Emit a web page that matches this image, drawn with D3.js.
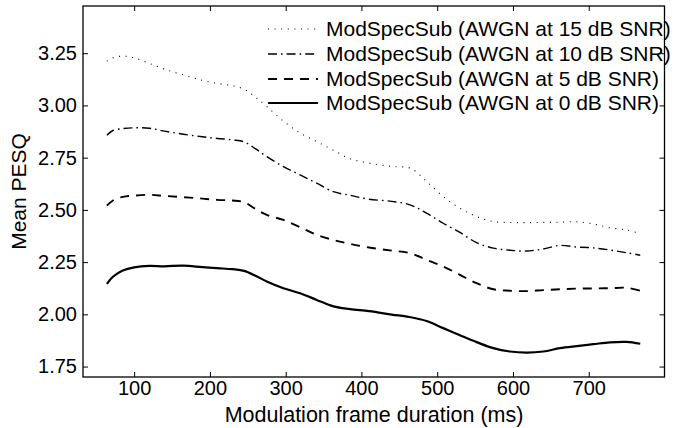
<!DOCTYPE html>
<html>
<head>
<meta charset="utf-8">
<script src="https://cdn.jsdelivr.net/npm/d3@7"></script>
<style>
  html, body { margin: 0; padding: 0; background: #fff; }
  svg { display: block; font-family: "Liberation Sans", Arial, Helvetica, sans-serif; }
</style>
</head>
<body>
<svg id="chart" width="680" height="428"></svg>
<script>
// Modulation frame durations (ms) at which mean PESQ was evaluated
const durations = [64, 72, 85, 100, 120, 140, 165, 190, 210, 230, 245, 260, 275, 297, 319, 341, 363, 385, 410, 440, 465, 486, 508, 530, 552, 574, 596, 618, 640, 662, 684, 706, 728, 750, 768];

// Mean PESQ per noise level
const snr15 = [3.212, 3.228, 3.236, 3.228, 3.201, 3.174, 3.146, 3.120, 3.105, 3.094, 3.078, 3.040, 2.995, 2.925, 2.868, 2.827, 2.786, 2.745, 2.724, 2.708, 2.699, 2.636, 2.564, 2.508, 2.468, 2.444, 2.440, 2.439, 2.440, 2.441, 2.443, 2.433, 2.414, 2.404, 2.386];
const snr10 = [2.857, 2.880, 2.889, 2.893, 2.891, 2.877, 2.862, 2.850, 2.842, 2.835, 2.826, 2.793, 2.755, 2.707, 2.667, 2.628, 2.587, 2.570, 2.551, 2.541, 2.523, 2.484, 2.436, 2.392, 2.343, 2.317, 2.307, 2.303, 2.313, 2.330, 2.322, 2.318, 2.308, 2.295, 2.283];
const snr5  = [2.520, 2.545, 2.562, 2.568, 2.572, 2.567, 2.561, 2.554, 2.548, 2.545, 2.537, 2.505, 2.476, 2.452, 2.417, 2.380, 2.356, 2.337, 2.320, 2.305, 2.292, 2.261, 2.229, 2.189, 2.149, 2.120, 2.113, 2.111, 2.116, 2.120, 2.123, 2.124, 2.125, 2.127, 2.113];
const snr0  = [2.146, 2.180, 2.210, 2.225, 2.232, 2.230, 2.233, 2.226, 2.221, 2.216, 2.208, 2.185, 2.157, 2.125, 2.101, 2.069, 2.038, 2.025, 2.015, 1.999, 1.986, 1.968, 1.934, 1.900, 1.867, 1.838, 1.822, 1.817, 1.822, 1.838, 1.848, 1.857, 1.866, 1.868, 1.859];

const seriesNames = [
  "ModSpecSub (AWGN at 15 dB SNR)",
  "ModSpecSub (AWGN at 10 dB SNR)",
  "ModSpecSub (AWGN at 5 dB SNR)",
  "ModSpecSub (AWGN at 0 dB SNR)"
];

const xTicks = [100, 200, 300, 400, 500, 600, 700];
const yTicks = [1.75, 2.00, 2.25, 2.50, 2.75, 3.00, 3.25];

const xLabel = "Modulation frame duration (ms)";
const yLabel = "Mean PESQ";

// Line styles for each series
const styles = [
  { width: 1.1, dash: "1,5.6" },
  { width: 1.4, dash: "9,4,1.6,4" },
  { width: 1.9, dash: "9,7" },
  { width: 2.2, dash: null }
];

const W = 680, H = 428;
const margin = { top: 6, right: 15.5, bottom: 51, left: 83 };
const iw = W - margin.left - margin.right;
const ih = H - margin.top - margin.bottom;

const svg = d3.select("#chart");
svg.append("rect").attr("width", W).attr("height", H).attr("fill", "#fff");

const g = svg.append("g").attr("transform", `translate(${margin.left},${margin.top})`);

const x = d3.scaleLinear().domain([32.5, 800]).range([0, iw]);
const y = d3.scaleLinear().domain([1.70, 3.476]).range([ih, 0]);

const tickFont = 20, legendFont = 21, titleFont = 21.5;

// Axes: ticks point inward on all four sides
const xAxisB = d3.axisBottom(x).tickValues(xTicks).tickSizeInner(-5).tickSizeOuter(0).tickPadding(4).tickFormat(d3.format("d"));
const xAxisT = d3.axisTop(x).tickValues(xTicks).tickSizeInner(-5).tickSizeOuter(0).tickFormat("");
const yAxisL = d3.axisLeft(y).tickValues(yTicks).tickSizeInner(-5).tickSizeOuter(0).tickPadding(6).tickFormat(d3.format(".2f"));
const yAxisR = d3.axisRight(y).tickValues(yTicks).tickSizeInner(-5).tickSizeOuter(0).tickFormat("");

function styleAxis(sel) {
  sel.select(".domain").remove();
  sel.selectAll(".tick line").attr("stroke", "#000").attr("stroke-width", 1);
  sel.selectAll(".tick text").attr("fill", "#000").attr("font-size", tickFont).attr("font-family", null);
}

g.append("g").attr("transform", `translate(0,${ih})`).call(xAxisB).call(styleAxis);
g.append("g").call(xAxisT).call(styleAxis);
g.append("g").call(yAxisL).call(styleAxis);
g.append("g").attr("transform", `translate(${iw},0)`).call(yAxisR).call(styleAxis);

// Data lines
const allSeries = [snr15, snr10, snr5, snr0];
const line = d3.line()
  .x(d => x(d[0]))
  .y(d => y(d[1]))
  .curve(d3.curveCatmullRom.alpha(0.5));

allSeries.forEach((vals, i) => {
  const pts = durations.map((d, k) => [d, vals[k]]);
  g.append("path")
    .datum(pts)
    .attr("fill", "none")
    .attr("stroke", "#000")
    .attr("stroke-width", styles[i].width)
    .attr("stroke-dasharray", styles[i].dash)
    .attr("stroke-linejoin", "round")
    .attr("d", line);
});

// Plot frame
g.append("rect")
  .attr("width", iw).attr("height", ih)
  .attr("fill", "none").attr("stroke", "#000").attr("stroke-width", 1.3);

// Legend
const legend = svg.append("g").attr("transform", "translate(268,0)");
const baselines = [36, 61, 86, 110];
seriesNames.forEach((name, i) => {
  const row = legend.append("g").attr("transform", `translate(0,${baselines[i]})`);
  row.append("line")
    .attr("x1", 0).attr("x2", 50).attr("y1", -7).attr("y2", -7)
    .attr("stroke", "#000")
    .attr("stroke-width", styles[i].width)
    .attr("stroke-dasharray", styles[i].dash);
  row.append("text")
    .attr("x", 58).attr("y", 0)
    .attr("font-size", legendFont)
    .attr("fill", "#000")
    .text(name);
});

// Axis titles
svg.append("text")
  .attr("x", 374)
  .attr("y", 422)
  .attr("text-anchor", "middle")
  .attr("font-size", titleFont)
  .attr("fill", "#000")
  .text(xLabel);

svg.append("text")
  .attr("transform", `translate(26,${margin.top + ih / 2}) rotate(-90)`)
  .attr("text-anchor", "middle")
  .attr("font-size", legendFont)
  .attr("fill", "#000")
  .text(yLabel);
</script>
</body>
</html>
